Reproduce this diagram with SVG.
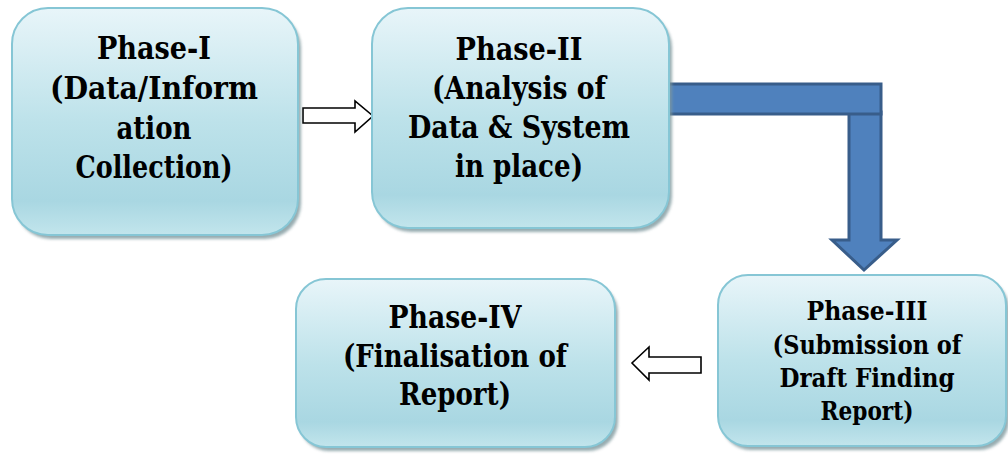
<svg xmlns="http://www.w3.org/2000/svg" width="1008" height="455" viewBox="0 0 1008 455">
<defs>
<linearGradient id="g" x1="0" y1="0" x2="0" y2="1">
<stop offset="0" stop-color="#e8f5f9"/>
<stop offset="0.5" stop-color="#bde2ea"/>
<stop offset="0.85" stop-color="#a9d7e2"/>
<stop offset="1" stop-color="#c2e5ec"/>
</linearGradient>
<filter id="sh" x="-10%" y="-10%" width="130%" height="130%">
<feGaussianBlur stdDeviation="1.5"/>
</filter>
<style>
.box{fill:url(#g);stroke:#86c6d5;stroke-width:2}
.shadow{fill:#7d979c;opacity:0.8;filter:url(#sh)}
.t{font-family:'DejaVu Serif',serif;font-weight:bold;fill:#000;text-anchor:middle}
.big{font-size:31px}
.small{font-size:26px}
.hollow{fill:#fff;stroke:#000;stroke-width:1.6;stroke-linejoin:miter}
.blue{fill:#4f81bd;stroke:#385d8a;stroke-width:3;stroke-linejoin:miter}
</style>
</defs>
<g id="connectors">
<polygon class="hollow" points="303,108 355,108 355,101 373,116 355,132 355,123 303,123"/>
<polygon class="blue" points="849,112 881,112 881,240 897,240 864,270 832,240 849,240"/>
<rect class="blue" x="663" y="84" width="218" height="30"/>
<polygon class="hollow" points="701,357 649,357 649,347 632,363 649,380 649,373 701,373"/>
</g>
<g id="phase1">
<rect class="shadow" x="15" y="12" width="286" height="227" rx="36"/>
<rect class="box" x="12" y="8" width="286" height="227" rx="36"/>
<text class="t big" x="154" y="59" textLength="114" lengthAdjust="spacingAndGlyphs">Phase-I</text>
<text class="t big" x="154" y="99" textLength="208" lengthAdjust="spacingAndGlyphs">(Data/Inform</text>
<text class="t big" x="154" y="139" textLength="75" lengthAdjust="spacingAndGlyphs">ation</text>
<text class="t big" x="154" y="178" textLength="157" lengthAdjust="spacingAndGlyphs">Collection)</text>
</g>
<g id="phase2">
<rect class="shadow" x="375" y="12" width="297" height="220" rx="36"/>
<rect class="box" x="372" y="8" width="297" height="220" rx="36"/>
<text class="t big" x="519" y="60" textLength="127" lengthAdjust="spacingAndGlyphs">Phase-II</text>
<text class="t big" x="519" y="99" textLength="174" lengthAdjust="spacingAndGlyphs">(Analysis of</text>
<text class="t big" x="519" y="138" textLength="222" lengthAdjust="spacingAndGlyphs">Data &amp; System</text>
<text class="t big" x="519" y="177" textLength="128" lengthAdjust="spacingAndGlyphs">in place)</text>
</g>
<g id="phase3">
<rect class="shadow" x="721" y="279" width="288" height="171" rx="30"/>
<rect class="box" x="718" y="275" width="288" height="171" rx="30"/>
<text class="t small" x="867" y="320" textLength="121" lengthAdjust="spacingAndGlyphs">Phase-III</text>
<text class="t small" x="867" y="354" textLength="189" lengthAdjust="spacingAndGlyphs">(Submission of</text>
<text class="t small" x="867" y="387" textLength="175" lengthAdjust="spacingAndGlyphs">Draft Finding</text>
<text class="t small" x="867" y="420" textLength="93" lengthAdjust="spacingAndGlyphs">Report)</text>
</g>
<g id="phase4">
<rect class="shadow" x="299" y="283" width="319" height="168" rx="30"/>
<rect class="box" x="296" y="279" width="319" height="168" rx="30"/>
<text class="t big" x="455" y="328" textLength="133" lengthAdjust="spacingAndGlyphs">Phase-IV</text>
<text class="t big" x="455" y="367" textLength="224" lengthAdjust="spacingAndGlyphs">(Finalisation of</text>
<text class="t big" x="455" y="405" textLength="112" lengthAdjust="spacingAndGlyphs">Report)</text>
</g>
</svg>
